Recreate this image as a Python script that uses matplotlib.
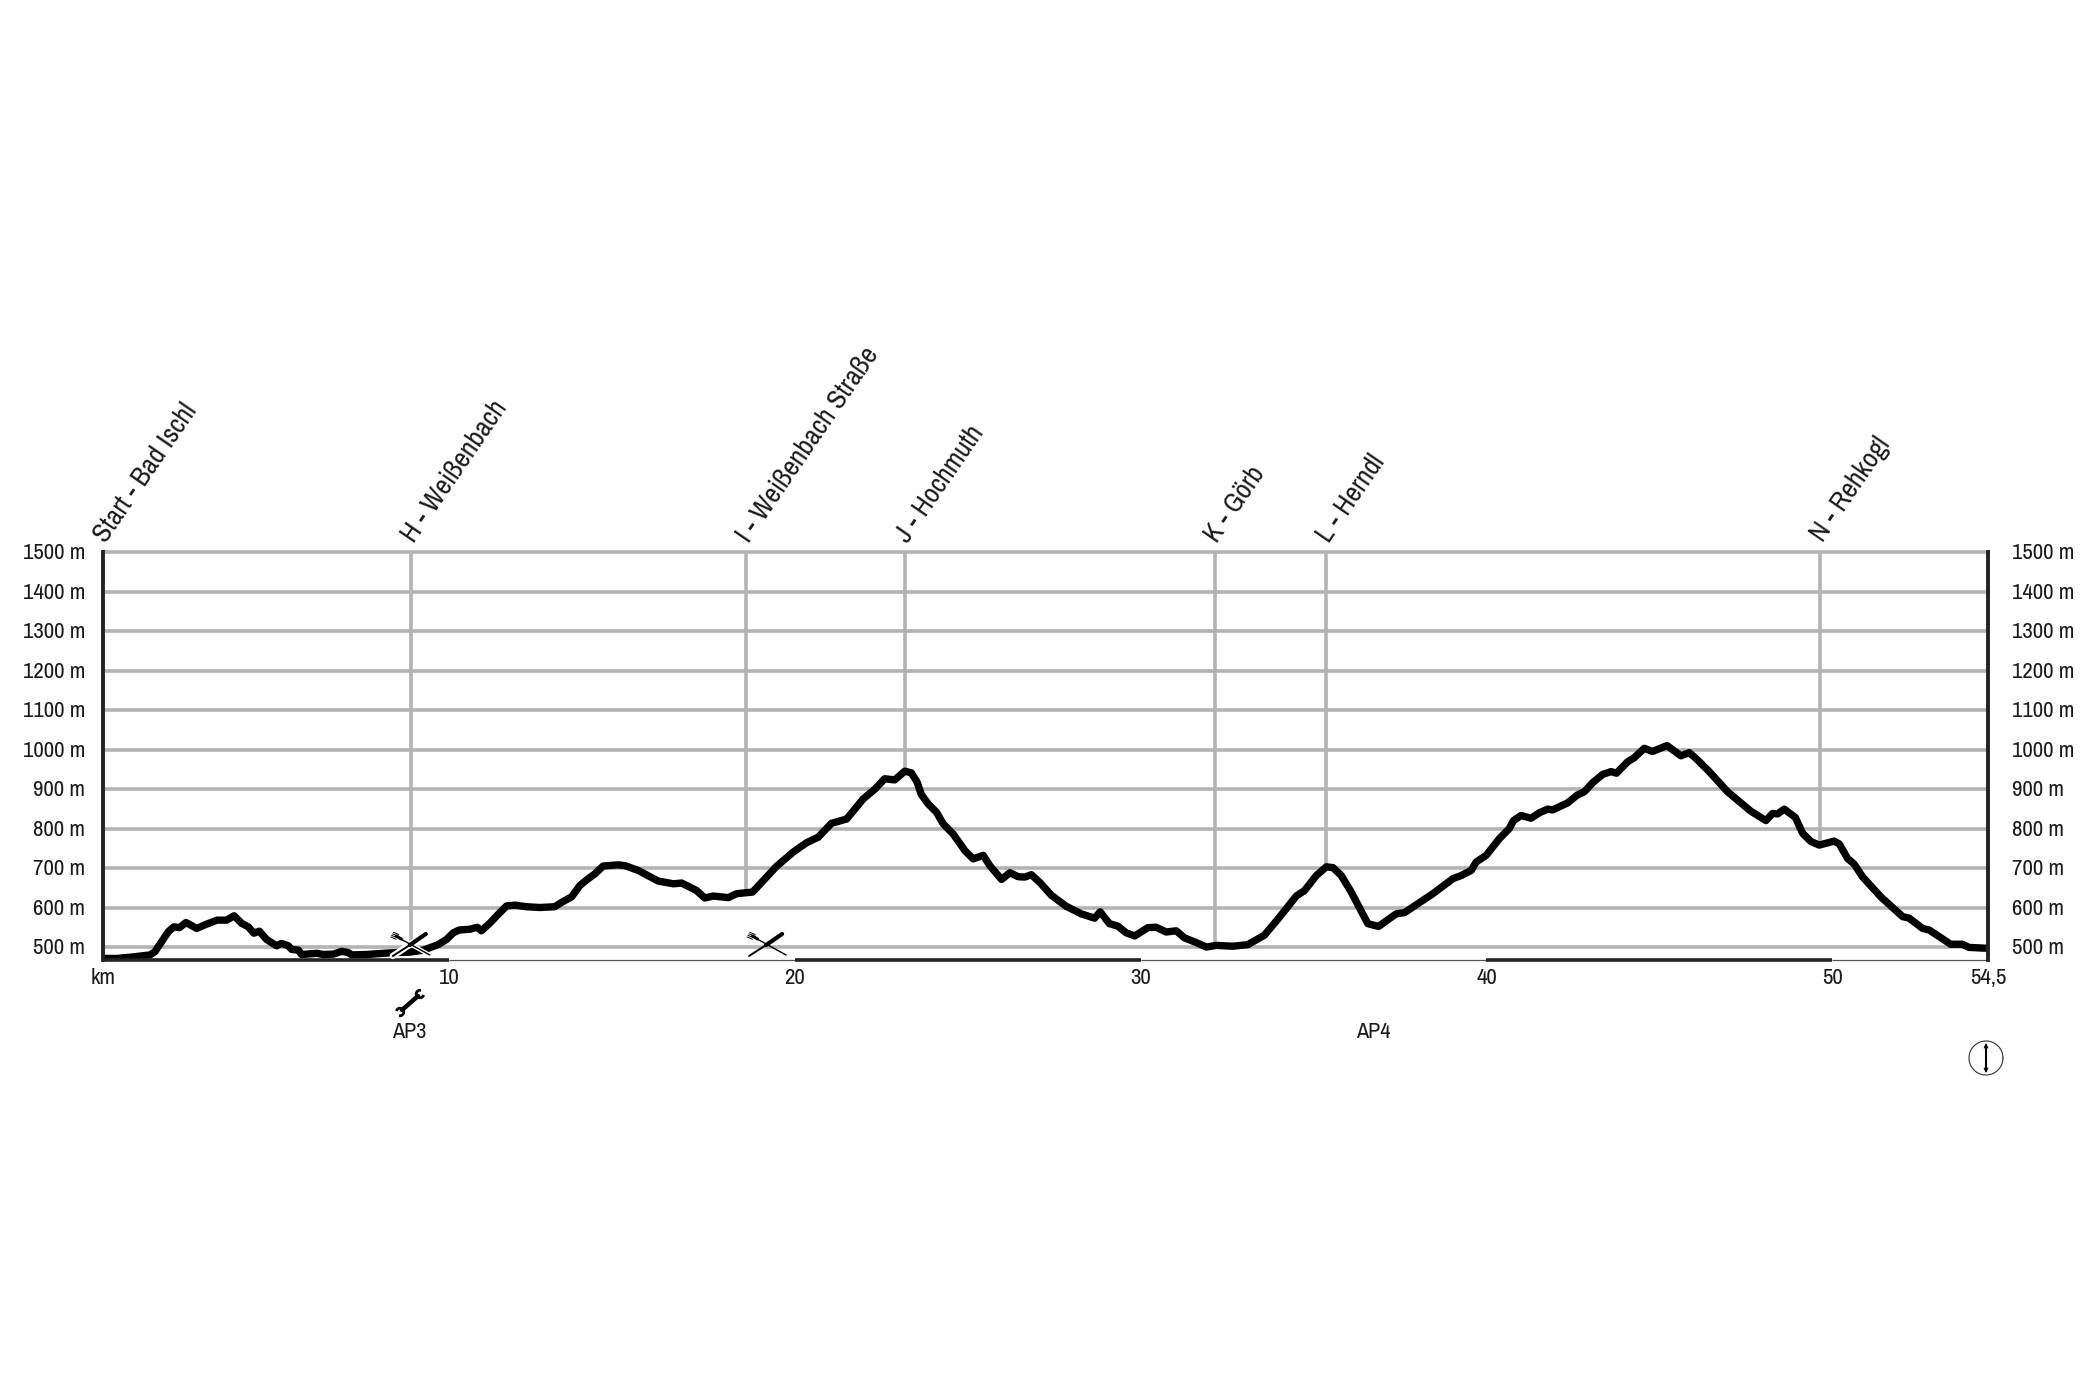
import matplotlib
matplotlib.use("Agg")
import matplotlib.pyplot as plt
import numpy as np
from matplotlib.lines import Line2D
from matplotlib.transforms import IdentityTransform
from matplotlib import font_manager as fm

names = {f.name for f in fm.fontManager.ttflist}
NARROW = 'Archivo Narrow' in names
plt.rcParams['font.family'] = ['Archivo Narrow' if NARROW else 'Liberation Sans', 'DejaVu Sans']

distance_km = [0, 0.4, 0.88, 1.36, 1.5, 1.7, 1.89, 2.05, 2.21, 2.4, 2.71, 3.0, 3.3, 3.57, 3.79, 4.01, 4.2, 4.36, 4.52, 4.73,
    5.02, 5.16, 5.36, 5.45, 5.65, 5.74, 6.18, 6.37, 6.66, 6.9, 7.09, 7.19, 7.62, 8.1, 8.49, 8.87, 9.26, 9.69, 9.93,
    10.13, 10.3, 10.61, 10.82, 10.94, 11.18, 11.43, 11.67, 11.91, 12.24, 12.63, 13.06, 13.3, 13.55,
    13.79, 14.03, 14.22, 14.46, 14.9, 15.09, 15.47, 16.05, 16.49, 16.73, 17.16, 17.4, 17.64, 18.08, 18.32, 18.78,
    19.09, 19.47, 19.95, 20.34, 20.68, 21.06, 21.5, 21.98, 22.32, 22.6, 22.89, 23.18, 23.37, 23.54, 23.66, 23.86,
    24.1, 24.29, 24.58, 24.92, 25.16, 25.25, 25.45, 25.64, 25.98, 26.22, 26.46, 26.65, 26.84, 27.08,
    27.42, 27.85, 28.28, 28.67, 28.83, 29.1, 29.34, 29.58, 29.83, 30.21, 30.45, 30.74, 31.03, 31.27, 31.56, 31.9,
    32.19, 32.67, 33.1, 33.58, 34.02, 34.5, 34.74, 35.08, 35.37, 35.56, 35.8, 36.09, 36.57, 36.88, 37.1, 37.39,
    37.63, 38.06, 38.45, 39.03, 39.27, 39.56, 39.7, 39.99, 40.37, 40.66,
    40.78, 41.0, 41.29, 41.53, 41.77, 41.91, 42.35, 42.63, 42.83, 43.07, 43.36, 43.6, 43.76, 44.08, 44.27, 44.56,
    44.8, 45.22, 45.62, 45.86, 46.05, 46.44, 46.97, 47.31, 47.64, 48.08, 48.27, 48.42, 48.61, 48.93, 49.14, 49.38,
    49.62, 50.05, 50.2, 50.44, 50.63, 50.87, 51.4, 52.03, 52.22, 52.61, 52.8, 53.42, 53.76, 53.95, 54.41, 54.5]
elevation_m = [471, 471, 475, 480, 488, 514, 539, 551, 549, 562, 547, 558, 568, 568, 579, 560, 551, 535, 540, 519,
    503, 509, 503, 494, 492, 481, 484, 481, 482, 489, 486, 480, 481, 484, 486, 487, 492, 506, 519,
    536, 543, 545, 550, 541, 560, 583, 604, 606, 602, 600, 602, 615, 627,
    656, 673, 685, 705, 708, 706, 694, 667, 660, 662, 643, 624, 629, 625, 635, 639,
    668, 704, 740, 764, 778, 813, 824, 875, 900, 926, 923, 945, 941, 917, 886, 862,
    841, 812, 786, 744, 723, 726, 732, 706, 671, 688, 678, 677, 683, 664,
    631, 603, 584, 573, 589, 559, 553, 536, 528, 549, 550, 538, 541, 523, 513, 500,
    504, 502, 506, 530, 576, 629, 643, 681, 703, 701, 681, 639, 559, 552, 566, 584,
    587, 612, 635, 673, 681, 694, 715, 732, 774, 800,
    820, 833, 826, 840, 849, 847, 865, 885, 893, 916, 937, 944, 940, 969, 979, 1003,
    995, 1010, 984, 992, 978, 944, 893, 868, 844, 820, 838, 837, 849, 828, 788, 767,
    758, 768, 761, 724, 710, 678, 627, 577, 573, 547, 543, 507, 507, 499, 497, 497]

waypoint_names = ['Start - Bad Ischl', 'H - Weißenbach', 'I - Weißenbach Straße', 'J - Hochmuth', 'K - Görb', 'L - Herndl', 'N - Rehkogl']
waypoint_km = [0, 8.9, 18.6, 23.18, 32.14, 35.37, 49.64]
height_ticks = list(range(500, 1501, 100))
km_ticks = [10, 20, 30, 40, 50]
km_end = 54.5
km_segments = [(0, 10, 'dark'), (10, 20, 'light'), (20, 30, 'dark'), (30, 40, 'light'), (40, 50, 'dark'), (50, 54.5, 'light')]
service_points = [('AP3', 8.84), ('AP4', 36.72)]
food_km = [8.9, 19.2]

W, H = 2100, 1400
DPI = 100
GREY = '#b3b3b3'
DARK = '#222222'
TXT = '#1a1a1a'
fig = plt.figure(figsize=(W / DPI, H / DPI), dpi=DPI, facecolor='white')
L, R, T, B = 103, 1988, 552, 959.5
ax = fig.add_axes([L / W, 1 - B / H, (R - L) / W, (B - T) / H])
y_bottom = 500 - (B - 947) / 0.395
ax.set_xlim(0, km_end)
ax.set_ylim(y_bottom, 1500)
ax.set_xticks([])
ax.set_yticks([])
for s in ax.spines.values():
    s.set_visible(False)

for v in height_ticks:
    ax.axhline(v, color=GREY, lw=2.6, zorder=1, clip_on=False)
# waypoint lines hang from the top of the chart down to the profile
for k in waypoint_km[1:]:
    ax.plot([k, k], [1500, np.interp(k, distance_km, elevation_m)], color=GREY, lw=2.6, zorder=1,
            clip_on=False, solid_capstyle='butt')
for x0 in (0, km_end):
    ax.axvline(x0, color=DARK, lw=2.8, zorder=5, clip_on=False)

ax.plot(distance_km, elevation_m, color='black', lw=5.3, solid_joinstyle='round', solid_capstyle='butt', zorder=3)

for a, b, kind in km_segments:
    if kind == 'dark':
        ax.plot([a, b], [y_bottom, y_bottom], color=DARK, lw=2.6, zorder=4, clip_on=False, solid_capstyle='butt')
    else:
        ax.plot([a, b], [y_bottom, y_bottom], color='#555555', lw=0.9, zorder=4, clip_on=False, solid_capstyle='butt')

FS = 16.5 if NARROW else 13.5
FS_W = 20 if NARROW else 17
for v in height_ticks:
    ax.annotate(f'{v} m', (0, v), xytext=(-12.8, 0.5), textcoords='offset points', ha='right', va='center_baseline', fontsize=FS, color=TXT, annotation_clip=False)
    ax.annotate(f'{v} m', (km_end, v), xytext=(17, 0.5), textcoords='offset points', ha='left', va='center_baseline', fontsize=FS, color=TXT, annotation_clip=False)

xt = ax.get_xaxis_transform()
def below(px):
    return -(px - B) / (B - T)

for k in km_ticks:
    ax.text(k, below(978), str(k), transform=xt, ha='center', va='center', fontsize=FS, color=TXT)
ax.text(0, below(978), 'km', transform=xt, ha='center', va='center', fontsize=FS, color=TXT)
ax.text(km_end, below(978), '54,5', transform=xt, ha='center', va='center', fontsize=FS, color=TXT)
for name, k in service_points:
    ax.text(k, below(1032), name, transform=xt, ha='center', va='center', fontsize=FS - 0.5, color=TXT)

for name, k in zip(waypoint_names, waypoint_km):
    ax.annotate(name, (k, 1500), xytext=(2, 6), textcoords='offset points', rotation=55.5, rotation_mode='anchor',
                ha='left', va='baseline', fontsize=FS_W, color=TXT, annotation_clip=False)

ident = IdentityTransform()
def pl(pts, lw, color='black', z=6, cap='round'):
    xs = [p[0] for p in pts]
    ys = [H - p[1] for p in pts]
    fig.add_artist(Line2D(xs, ys, transform=ident, color=color, lw=lw, zorder=z, solid_capstyle=cap))

def food(cx, cy, halo):
    blade = [(cx + 15, cy - 10), (cx - 1, cy + 1)]
    handle = [(cx - 1, cy + 1), (cx - 18, cy + 12)]
    fork = [(cx - 10, cy - 5), (cx + 19, cy + 11)]
    if halo:
        pl([blade[0], handle[1]], 4.6, 'white', 6)
        pl(fork, 3.0, 'white', 6)
    pl(fork, 1.0, 'black', 7)
    pl(handle, 1.4, 'black', 7)
    pl(blade, 3.0, 'black', 7)
    for d in (-2.7, -0.9, 0.9, 2.7):
        pl([(cx - 19 + d * .5, cy - 9.5 - d * .87), (cx - 13 + d * .5, cy - 7 - d * .87)], 0.7, 'black', 7, 'butt')
    pl([(cx - 14.5, cy - 8), (cx - 9.5, cy - 5)], 2.2, 'black', 7)

for i, k in enumerate(food_km):
    food(L + k * (R - L) / km_end, 944, halo=(i == 0))

# wrench
cx, cy = 410, 1003
pl([(cx - 8, cy + 7), (cx + 8, cy - 7)], 3.2)
t = np.radians(np.linspace(15, 285, 16))
pl([(cx + 10 + 3.8 * np.cos(a), cy - 9 + 3.8 * np.sin(a)) for a in t], 2.0, cap='butt')
t = np.radians(np.linspace(195, 465, 16))
pl([(cx - 10 + 3.8 * np.cos(a), cy + 9 + 3.8 * np.sin(a)) for a in t], 2.0, cap='butt')

# compass dial
cx, cy, rad = 1986, 1058, 17
ang = np.linspace(0, 2 * np.pi, 80)
pl([(cx + rad * np.cos(a), cy + rad * np.sin(a)) for a in ang], 0.8, '#333333')
for a in np.arange(12) * np.pi / 6:
    pl([(cx + 14.2 * np.cos(a), cy + 14.2 * np.sin(a)), (cx + 14.2 * np.cos(a) + .1, cy + 14.2 * np.sin(a))], 1.1, '#222222')
pl([(cx, cy - 13), (cx, cy + 13)], 1.5)
pl([(cx - 1.8, cy - 10), (cx, cy - 14), (cx + 1.8, cy - 10)], 0.8)
pl([(cx - 1.8, cy + 10), (cx, cy + 14), (cx + 1.8, cy + 10)], 0.8)

fig.savefig('out.png', dpi=DPI, facecolor='white')
